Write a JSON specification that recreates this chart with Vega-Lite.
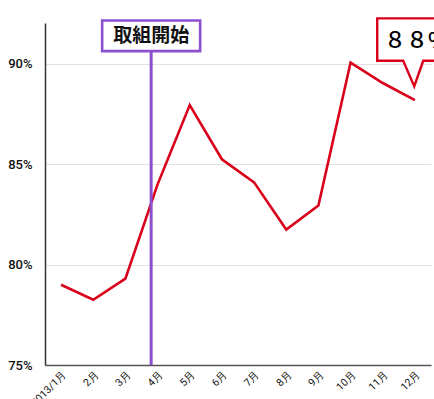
{
  "$schema": "https://vega.github.io/schema/vega-lite/v6.json",
  "width": 386,
  "height": 342,
  "autosize": {"type": "none"},
  "padding": {"left": 45, "top": 23, "right": 3, "bottom": 34},
  "background": "white",
  "config": {
    "view": {"stroke": null},
    "axis": {"labelFont": "Roboto", "labelColor": "#111", "ticks": false, "title": null},
    "axisX": {"labelOverlap": false, "labelBound": false}
  },
  "datasets": {
    "rate": [
      {"m": 1, "month": "2013/1月", "value": 79.0},
      {"m": 2, "month": "2月", "value": 78.25},
      {"m": 3, "month": "3月", "value": 79.3},
      {"m": 4, "month": "4月", "value": 84.0},
      {"m": 5, "month": "5月", "value": 87.95},
      {"m": 6, "month": "6月", "value": 85.25},
      {"m": 7, "month": "7月", "value": 84.1},
      {"m": 8, "month": "8月", "value": 81.75},
      {"m": 9, "month": "9月", "value": 82.95},
      {"m": 10, "month": "10月", "value": 90.07},
      {"m": 11, "month": "11月", "value": 89.05},
      {"m": 12, "month": "12月", "value": 88.2}
    ],
    "start": [{"m": 3.8, "value": 91.4, "label": "取組開始"}],
    "callout": [{"m": 12, "value": 88.2, "label": "８８%"}]
  },
  "resolve": {"axis": {"x": "independent", "y": "independent"}},
  "layer": [
    {
      "data": {"name": "rate"},
      "mark": {"type": "line", "color": "#d9001b", "strokeWidth": 2.6, "strokeJoin": "miter"},
      "encoding": {
        "x": {
          "field": "m",
          "type": "quantitative",
          "scale": {"domain": [0.5, 12.5], "nice": false, "zero": false},
          "axis": {
            "values": [1, 2, 3, 4, 5, 6, 7, 8, 9, 10, 11, 12],
            "labelExpr": "datum.value == 1 ? '2013/1月' : datum.value + '月'",
            "labelAngle": -45,
            "labelFontSize": 10.5,
            "labelPadding": 4,
            "labelOverlap": false,
            "labelSeparation": 0,
            "grid": false,
            "domainColor": "#555",
            "domainWidth": 1.5
          }
        },
        "y": {
          "field": "value",
          "type": "quantitative",
          "scale": {"domain": [75, 92.04], "nice": false, "zero": false},
          "axis": {
            "values": [75, 80, 85, 90],
            "labelExpr": "datum.value + '%'",
            "labelFontSize": 13,
            "labelFontWeight": 500,
            "labelPadding": 13,
            "gridColor": "#e2e2e2",
            "domainColor": "#333",
            "domainWidth": 1.5
          }
        }
      }
    },
    {
      "data": {"name": "start"},
      "mark": {"type": "rule", "color": "#8c4fd0", "strokeWidth": 3},
      "encoding": {"x": {"field": "m", "type": "quantitative", "axis": null}}
    },
    {
      "data": {"name": "start"},
      "mark": {
        "type": "point",
        "shape": "M-49,-15.3H49V15.3H-49Z",
        "size": 4,
        "filled": false,
        "fill": "white",
        "fillOpacity": 1,
        "stroke": "#8c4fd0",
        "strokeWidth": 2.6,
        "opacity": 1
      },
      "encoding": {
        "x": {"field": "m", "type": "quantitative", "axis": null},
        "y": {"field": "value", "type": "quantitative", "axis": null}
      }
    },
    {
      "data": {"name": "start"},
      "mark": {
        "type": "text",
        "font": "Noto Sans CJK JP",
        "fontWeight": "bold",
        "fontSize": 19,
        "color": "#111",
        "align": "center",
        "baseline": "middle"
      },
      "encoding": {
        "x": {"field": "m", "type": "quantitative", "axis": null},
        "y": {"field": "value", "type": "quantitative", "axis": null},
        "text": {"field": "label"}
      }
    },
    {
      "data": {"name": "callout"},
      "mark": {
        "type": "point",
        "shape": "M-0.7,-13.7L-11.7,-39.3H-37.7V-81.7H70V-39.3H8.3Z",
        "size": 4,
        "filled": false,
        "fill": "white",
        "fillOpacity": 1,
        "stroke": "#d9001b",
        "strokeWidth": 2.4,
        "opacity": 1
      },
      "encoding": {
        "x": {"field": "m", "type": "quantitative", "axis": null},
        "y": {"field": "value", "type": "quantitative", "axis": null}
      }
    },
    {
      "data": {"name": "callout"},
      "mark": {
        "type": "text",
        "font": "Noto Sans CJK JP",
        "fontSize": 22,
        "fontWeight": 500,
        "color": "#000",
        "align": "left",
        "baseline": "alphabetic",
        "dx": -31,
        "dy": -52
      },
      "encoding": {
        "x": {"field": "m", "type": "quantitative", "axis": null},
        "y": {"field": "value", "type": "quantitative", "axis": null},
        "text": {"field": "label"}
      }
    }
  ]
}
